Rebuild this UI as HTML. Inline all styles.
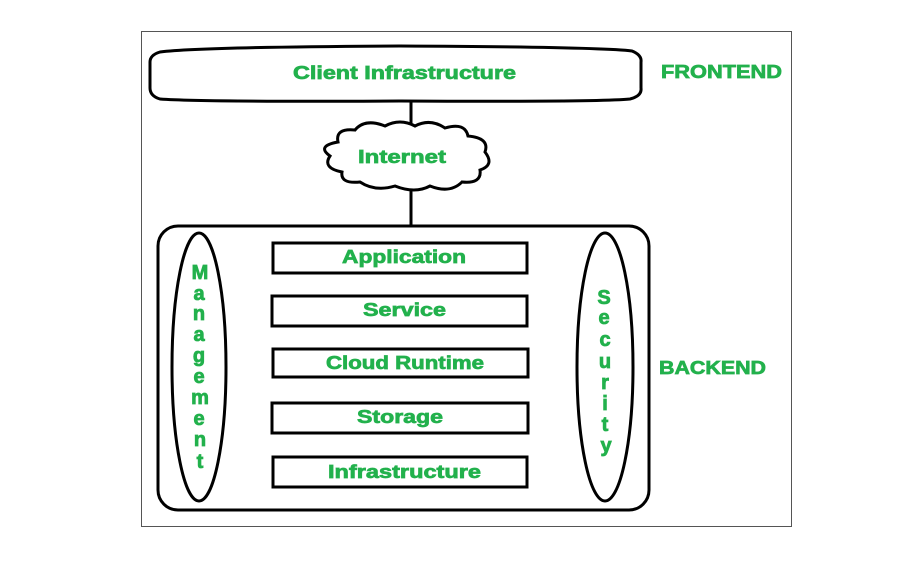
<!DOCTYPE html>
<html><head><style>body{margin:0;background:#fff}svg{display:block}</style></head><body>
<svg width="917" height="565" xmlns="http://www.w3.org/2000/svg" font-family="Liberation Sans, Arial, sans-serif" font-weight="bold" fill="#22b14c">
<rect x="141.5" y="31.5" width="650" height="495" fill="none" stroke="#555" stroke-width="1"/>
<path d="M160 52 Q200 47 400 46 Q600 47 632 51 Q642 55 641 62 L641 88 Q642 96 630 99 Q600 102 400 101 Q200 102 160 99 Q150 96 150 88 L150 62 Q150 55 160 52 Z" fill="#fff" stroke="#000" stroke-width="3"/>
<g stroke="#22b14c" stroke-width="0.7" font-size="18" lengthAdjust="spacingAndGlyphs">
<text x="293" y="79" textLength="223" lengthAdjust="spacingAndGlyphs">Client Infrastructure</text>
<text x="661" y="78" textLength="121" lengthAdjust="spacingAndGlyphs">FRONTEND</text>
</g>
<line x1="411" y1="101" x2="411" y2="128" stroke="#000" stroke-width="3"/>
<line x1="411" y1="190" x2="411" y2="226" stroke="#000" stroke-width="3"/>
<path d="M338 142 Q335 128 355 130 Q365 118 385 126 Q400 118 415 126 Q430 118 445 128 Q465 122 468 136 Q490 138 485 152 Q495 165 480 170 Q482 184 462 182 Q450 194 430 186 Q415 194 395 186 Q375 192 360 182 Q340 184 342 172 Q322 168 330 156 Q316 146 338 142 Z" fill="#fff" stroke="#000" stroke-width="3"/>
<rect x="158" y="226" width="491" height="284" rx="20" fill="#fff" stroke="#000" stroke-width="3"/>
<ellipse cx="199" cy="367" rx="27" ry="134" fill="none" stroke="#000" stroke-width="3"/>
<ellipse cx="605" cy="367" rx="28" ry="134" fill="none" stroke="#000" stroke-width="3"/>
<g fill="#fff" stroke="#000" stroke-width="3">
<rect x="273" y="243" width="254" height="30"/>
<rect x="272" y="296" width="255" height="30"/>
<rect x="273" y="349" width="255" height="28"/>
<rect x="272" y="403" width="256" height="30"/>
<rect x="273" y="457" width="254" height="30"/>
</g>
<g font-size="18" stroke="#22b14c" stroke-width="0.7">
<text x="358" y="163" textLength="88" lengthAdjust="spacingAndGlyphs">Internet</text>
<text x="342" y="263" textLength="124" lengthAdjust="spacingAndGlyphs">Application</text>
<text x="363" y="316" textLength="83" lengthAdjust="spacingAndGlyphs">Service</text>
<text x="326" y="369" textLength="158" lengthAdjust="spacingAndGlyphs">Cloud Runtime</text>
<text x="357" y="423" textLength="86" lengthAdjust="spacingAndGlyphs">Storage</text>
<text x="328" y="478" textLength="153" lengthAdjust="spacingAndGlyphs">Infrastructure</text>
<text x="659" y="374" textLength="107" lengthAdjust="spacingAndGlyphs">BACKEND</text>
</g>
<g font-size="20" text-anchor="middle" stroke="#22b14c" stroke-width="0.8">
<text x="200" y="279">M</text><text x="199" y="300">a</text><text x="199" y="320">n</text><text x="199" y="341">a</text><text x="199" y="362">g</text><text x="199" y="383">e</text><text x="200" y="404">m</text><text x="199" y="425">e</text><text x="200" y="446">n</text><text x="200" y="468">t</text>
<text x="604" y="304">S</text><text x="604" y="324">e</text><text x="605" y="346">c</text><text x="605" y="368">u</text><text x="605" y="389">r</text><text x="605" y="410">i</text><text x="605" y="431">t</text><text x="606" y="452">y</text>
</g>
</svg>
</body></html>
